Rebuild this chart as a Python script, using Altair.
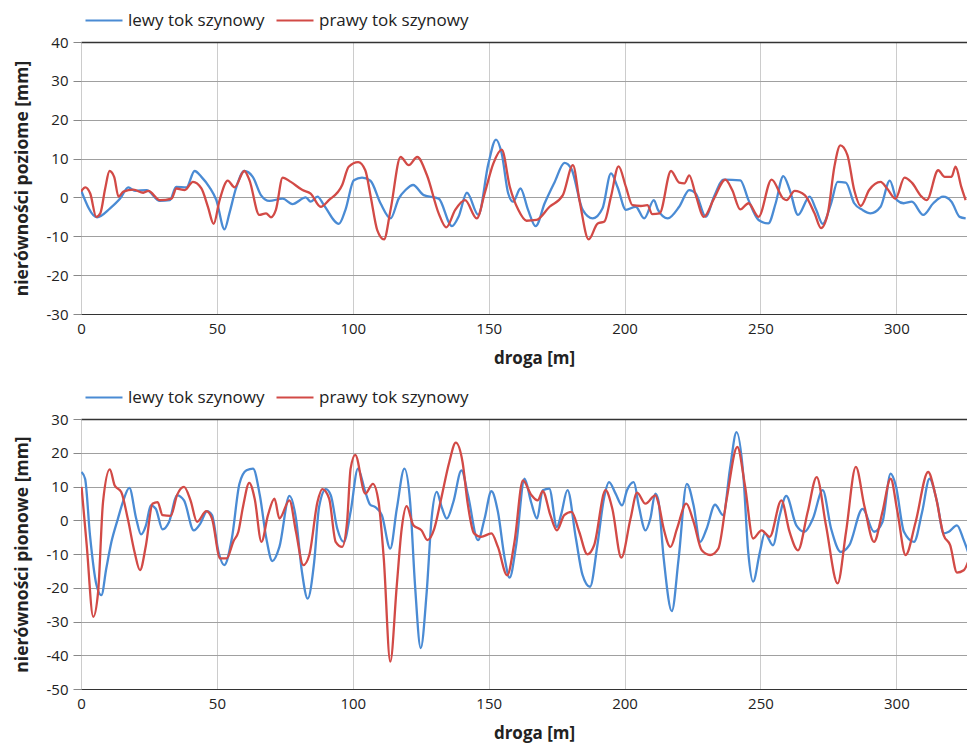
import altair as alt
import pandas as pd

series_names = ["lewy tok szynowy", "prawy tok szynowy"]
series_colors = ["#4a8bd4", "#d24a46"]
x_ticks = [0, 50, 100, 150, 200, 250, 300]
top_y_ticks = [-30, -20, -10, 0, 10, 20, 30, 40]
bot_y_ticks = [-50, -40, -30, -20, -10, 0, 10, 20, 30]

# (droga [m], nierównosci [mm])
top_left = [(0, 1.9), (5.9, -5.1), (10.7, -2.8), (14.4, -0.3), (17.4, 2.6), (19.9, 1.7), (24.1, 1.9),
            (29, -0.9), (32.7, -0.7), (35, 2.7), (38.8, 2.6), (41.8, 6.8), (44.3, 5.3), (47.3, 2.6),
            (49.8, -0.7), (52.8, -8.2), (54.6, -4.1), (57, 2.3), (60.1, 6.8), (63.2, 5.3), (66.2, 0.6),
            (69.3, -0.9), (74.2, -0.3), (77.8, -1.7), (82.7, 0), (84.5, -1.1), (87, 0.2), (89.4, -2),
            (94.9, -6.8), (97.3, -3.2), (100.4, 4.4), (103.4, 5.1), (106.5, 4.3), (110.2, -1.5),
            (113.9, -5.4), (116.9, -0.3), (119.4, 1.9), (122.2, 3.2), (126.1, 0.6), (131.6, -0.3),
            (136.5, -7.4), (138.9, -5), (142, 1.2), (146.2, -4.5), (149.9, 8.7), (152.7, 14.9),
            (154.8, 11.3), (157.2, 1), (159, -1.1), (161.7, 2.3), (164.5, -3.2), (167.3, -7.4),
            (170.6, -1.5), (174.3, 4), (177.9, 8.9), (180.4, 7.4), (184.6, -3.2), (188.3, -5.4),
            (191.9, -2.8), (195, 6.2), (197.4, 2.7), (200.5, -3.2), (204.1, -2.4), (207.2, -5.4),
            (210.8, -0.7), (212.3, -3.2), (215.9, -5.4), (220.1, -2.4), (223.8, 1.9), (226.2, 1),
            (229.9, -5), (232.9, 0.2), (236.5, 4.6), (242.6, 4.4), (245.6, -0.7), (249.3, -5.8),
            (252.9, -6.7), (255.6, -1.5), (258.4, 5.5), (260.8, 1.9), (263.8, -4.5), (268.1, 0.2),
            (270.5, -3.2), (272.9, -6.8), (276, -1.5), (278.4, 4), (281.4, 3.8), (284.5, -1.5),
            (287.5, -3.2), (290.5, -4.1), (294.2, -2.4), (297.6, 4.3), (300.2, -0.7), (302.7, -1.5),
            (305.7, -1.1), (309.9, -4.5), (313.6, -1.5), (317.2, 0.2), (320.3, -1.1), (323.3, -5),
            (325.5, -5.4)]

top_right = [(0, 1.5), (1.6, 2.6), (3.4, 1), (5.6, -5), (7.1, -4.1), (8.9, 2.3), (10.5, 6.8), (12.2, 5.3),
             (13.8, 0.2), (15.6, 1.5), (19.3, 2), (22.9, 1.2), (24.8, 1.7), (29, -0.7), (33.3, -0.3),
             (35.1, 2.3), (38.2, 1.9), (41.2, 4), (44.3, 2.3), (46.7, -2.4), (48.8, -6.8), (51, -0.7),
             (54, 4.3), (56.5, 2.6), (60.1, 6.8), (62, 4.4), (65.6, -4.5), (68.1, -4.1), (69.9, -5.1),
             (71.7, -3.2), (74.2, 5.1), (77.2, 4), (81.5, 1.9), (84.5, 1), (88.2, -2.4), (91.2, -0.7),
             (96.1, 3.2), (98.5, 7.9), (102, 9.1), (104.6, 7), (106.6, 0.2), (109, -8.4), (111.5, -10.8),
             (113.9, -3.2), (117.6, 10.4), (120.6, 8.3), (123.7, 10.4), (127.3, 5.7), (131.6, -4.1),
             (134.4, -7.7), (137.7, -3.2), (141.3, -0.7), (145.6, -5.4), (148.7, 1.5), (151.7, 8.7),
             (154.8, 12.3), (157.8, 2.7), (160.9, -3.2), (163.9, -6), (167.6, -5.8), (172.4, -2.4),
             (177.3, 0.6), (181, 8.3), (183.4, -0.7), (186.8, -10.8), (190.1, -6.7), (192.6, -6.2),
             (195, 0.2), (197.8, 8), (200.5, 2.7), (202.9, -2), (206, -2.2), (208.4, -2), (210.2, -4.3),
             (212.9, -4.1), (217.1, 6.8), (220.1, 3.8), (222, 3.6), (223.8, 5.7), (226.2, 0.6),
             (229.2, -5), (232.9, -0.3), (237.1, 4.6), (239.6, 1.9), (242.6, -3.1), (245.6, -1.5),
             (249.3, -5), (254.1, 4.6), (258.4, -0.3), (259.6, -0.7), (262.6, 1.7), (266.3, 0.6),
             (269.9, -4.1), (272.3, -7.9), (274.8, -4.1), (277.2, 7.9), (279.4, 13.4), (282, 10.9),
             (284.5, 1.9), (286.9, -2.2), (290, 1.9), (294.2, 4), (296.6, 2.3), (299.7, -0.3), (303, 5.1),
             (305.7, 3.8), (309.3, 0.2), (311.2, -0.7), (315.4, 7), (317.8, 5.3), (320.3, 5.3),
             (321.8, 7.9), (323.9, 2.7), (325.5, -0.7)]

bot_left = [(0.2, 14.3), (1.5, 12.3), (3.3, -4.4), (5.7, -19.2), (7.5, -22.2), (9.3, -14.3), (11.2, -6.4),
            (13.6, 0.5), (15.4, 5.4), (17.8, 9.6), (20.3, 0.5), (22.1, -4.2), (23.9, -1.5), (25.7, 4.4),
            (27.5, 3.4), (30, -2.7), (32.4, -0.5), (35.4, 7.4), (37.9, 5.9), (41.5, -3), (43.9, -1),
            (46.4, 2.7), (48.2, 1.5), (50.6, -9.4), (52.7, -13.3), (55.5, -5.4), (58.3, 10.8),
            (60.9, 14.8), (63.3, 15.3), (65.8, 7.4), (68.2, -5.4), (70.4, -12.1), (73, -7.9), (76.7, 7.2),
            (79.1, 0.5), (81.3, -15.3), (83.4, -23.2), (85.8, -12.3), (87.6, 3.9), (90.1, 9.2),
            (91.9, 7.4), (94.3, -2.5), (96.7, -6.4), (99.2, 2.5), (101.9, 15.3), (104.6, 8.4),
            (106.4, 4.6), (108.3, 3.9), (110.7, 1.5), (113.8, -8.4), (116.2, 3.4), (119, 15.3),
            (121.1, 5.4), (122.9, -19.2), (125, -37.9), (127.2, -21.2), (129, 0.5), (130.9, 8.4),
            (132.7, 3.9), (134.6, 0.5), (137, 5.4), (140, 14.8), (142.4, 7.4), (146.1, -5.9),
            (148.5, 0.5), (151, 8.6), (153.4, 2.5), (155.9, -11.3), (157.7, -17), (160.1, -7.4),
            (163.2, 12.3), (165.6, 5.4), (167.8, 0.5), (169.9, 8.9), (172.3, 9.4), (175.1, -2),
            (176.6, 1.5), (179, 8.9), (182.1, -5.4), (184.5, -16.1), (187.3, -19.7), (190, -7.4),
            (192.4, 6.4), (194.3, 11.3), (196.7, 7.9), (199.1, 4.4), (200.9, 8.9), (203.4, 11.3),
            (205.2, 4.4), (207.7, -3), (209.5, 0.5), (211.3, 7.9), (212.4, 6), (214.4, -11.3),
            (217.4, -26.9), (219.9, -11.3), (222.9, 10.8), (225.4, 4.4), (227.8, -6.4), (230.2, -2.5),
            (233.3, 4.6), (236.3, 1.5), (238.8, 15.3), (241.2, 26.1), (243.7, 13.3), (245.5, -9.4),
            (247.3, -18.2), (249.8, -9.4), (251.6, -3.9), (254.6, -7.4), (257.1, 1.5), (259.5, 7.2),
            (263.2, -1.5), (266.2, -3.4), (269.3, 0.5), (272.9, 8.9), (276, -2.5), (279.6, -9.4),
            (282.7, -7.4), (287.6, 3.4), (291.8, -3.4), (294.9, -0.5), (297.9, 13.8), (299.8, 10.3),
            (302.8, -3.4), (306.5, -6.4), (309.5, 2.5), (312.2, 12.3), (315, 5.4), (317.4, -3.9),
            (319.3, -3.4), (322.3, -1.5), (324.8, -5.9), (327.6, -12.3)]

bot_right = [(0.2, 9.9), (2.1, -7.4), (4.5, -28.6), (6.3, -21.2), (8.1, 5.4), (10.6, 15.1), (12.4, 10.3),
             (14.8, 8.4), (17.2, 0.5), (19.7, -9.4), (21.7, -14.8), (23.9, -7.4), (26.3, 4.9), (28.2, 5.4),
             (30, 1.5), (33, 1.3), (35.4, 7.6), (37.9, 9.9), (40.3, 5.9), (42.7, -0.5), (46.1, 2.7),
             (48.2, 0.5), (51.2, -11.3), (53.6, -11.3), (56.1, -6.2), (57.9, -3.4), (59.7, 4.4),
             (61.9, 11.1), (63.9, 6.4), (66.4, -6.4), (68.8, 1.5), (71.2, 6.4), (73, 0.5), (76.7, 5.9),
             (79.1, -3.4), (81.8, -13.3), (84, -10.3), (87, 5.4), (88.8, 9.2), (91.3, 6.4), (93.7, -6.4),
             (96.1, -7.9), (97.9, -0.5), (99.2, 15.3), (100.9, 19.4), (104.6, 7.9), (107.4, 10.8),
             (109.5, 5.4), (111.4, -11.3), (113.8, -41.9), (116.2, -19.2), (118, -2.5), (119.8, 4.2),
             (122.3, -1.5), (125.3, -3), (127.5, -5.9), (130, -2.5), (132.4, 5.9), (135.5, 17.2),
             (137.9, 23), (140.4, 17.2), (142.2, 5.4), (144.6, -3.9), (147.2, -4.9), (151, -3.9),
             (153.4, -7.9), (156.8, -16.3), (159.5, -6.4), (162.6, 11.8), (165.6, 7.6), (168, 5.9),
             (169.9, 8.6), (172.7, 1.5), (175.1, -3), (177.8, 1.5), (180.5, 2.5), (183.3, -3.4),
             (186.3, -10.1), (188.8, -7.4), (193, 8.9), (195.5, 3.4), (198.8, -11.1), (202.2, 0.5),
             (204.6, 8.2), (207.7, 4.9), (211.3, 7.4), (212.5, 5), (214.4, -2.5), (216.9, -7.9),
             (219.3, -2.5), (222.7, 4.9), (225.4, -0.5), (228.4, -8.9), (231.5, -10.3), (234.5, -8.4),
             (237.6, 6.4), (241.5, 21.7), (244.3, 10.3), (247.3, -5.4), (250.4, -3), (253.4, -4.9),
             (257.7, 5.9), (260.7, -3.4), (263.8, -8.9), (267.4, 2.5), (270.7, 12.8), (274.1, -1.5),
             (278.4, -18.7), (281.5, -3.4), (285.1, 15.8), (288.2, 4.4), (291.8, -6.4), (294.9, 2.5),
             (297.9, 12.3), (300.4, 2.5), (303.4, -10.3), (307.1, -0.5), (311.7, 14.3), (314.4, 7.4),
             (317.4, -4.4), (319.8, -7.4), (322.3, -15.5), (324.8, -14.8), (327.6, -9.4)]

FONT = "Open Sans"
PLOT_W = 886


def frame(left, right):
    rows = []
    for name, pts in ((series_names[0], left), (series_names[1], right)):
        for x, y in pts:
            rows.append({"droga": x, "v": y, "tok": name})
    return pd.DataFrame(rows)


def panel(left, right, y_ticks, y_title, height, x_title_pad):
    df = frame(left, right)
    top_val = y_ticks[-1]
    return alt.Chart(df).mark_line(interpolate="monotone", strokeWidth=2.3, clip=True).encode(
        x=alt.X("droga:Q",
                scale=alt.Scale(domain=[0, 326], nice=False, zero=False),
                axis=alt.Axis(values=x_ticks, title="droga [m]", grid=True, gridColor="#cccccc",
                              ticks=False, domainColor="#333333", domainWidth=1.2,
                              labelFlush=False, labelFont=FONT, labelFontSize=15, labelColor="#222222",
                              labelPadding=7, titleFont=FONT, titleFontSize=17, titleFontWeight="bold",
                              titleColor="#222222", titlePadding=x_title_pad,
                              titleX=PLOT_W / 2 + 10, titleAlign="center")),
        y=alt.Y("v:Q",
                scale=alt.Scale(domain=[y_ticks[0], top_val], nice=False, zero=False),
                axis=alt.Axis(values=y_ticks, tickCount=len(y_ticks), title=y_title, grid=True,
                              gridColor={"condition": {"test": f"datum.value === {top_val}",
                                                       "value": "#333333"},
                                         "value": "#a0a0a0"},
                              gridWidth={"condition": {"test": f"datum.value === {top_val}",
                                                       "value": 1.3},
                                         "value": 1},
                              domain=False, tickSize=8, tickColor="#888888", labelOverlap=False,
                              labelExpr="'' + datum.value",
                              labelFont=FONT, labelFontSize=15, labelColor="#222222", labelPadding=5,
                              titleFont=FONT, titleFontSize=17.5, titleFontWeight="bold",
                              titleColor="#222222", titlePadding=15)),
        color=alt.Color("tok:N",
                        scale=alt.Scale(domain=series_names, range=series_colors),
                        legend=alt.Legend(orient="none", legendX=3, legendY=-34, direction="horizontal",
                                          title=None, symbolType="stroke", symbolSize=1369,
                                          symbolStrokeWidth=2.2, clipHeight=25,
                                          labelFont=FONT, labelFontSize=17,
                                          labelColor="#222222", labelOffset=4, columnPadding=10)),
    ).properties(width=PLOT_W, height=height)


top = panel(top_left, top_right, top_y_ticks, "nierówności poziome [mm]", 272, 14)
bottom = panel(bot_left, bot_right, bot_y_ticks, "nierówności pionowe [mm]", 270, 14)

chart = (
    alt.vconcat(top, bottom, spacing=19)
    .resolve_scale(color="independent")
    .resolve_legend(color="independent")
    .properties(padding={"left": 5, "top": 0, "right": 0, "bottom": 6}, background="white")
    .configure_view(stroke=None)
)

chart.save("out.html", embed_options={"renderer": "svg", "actions": False})
